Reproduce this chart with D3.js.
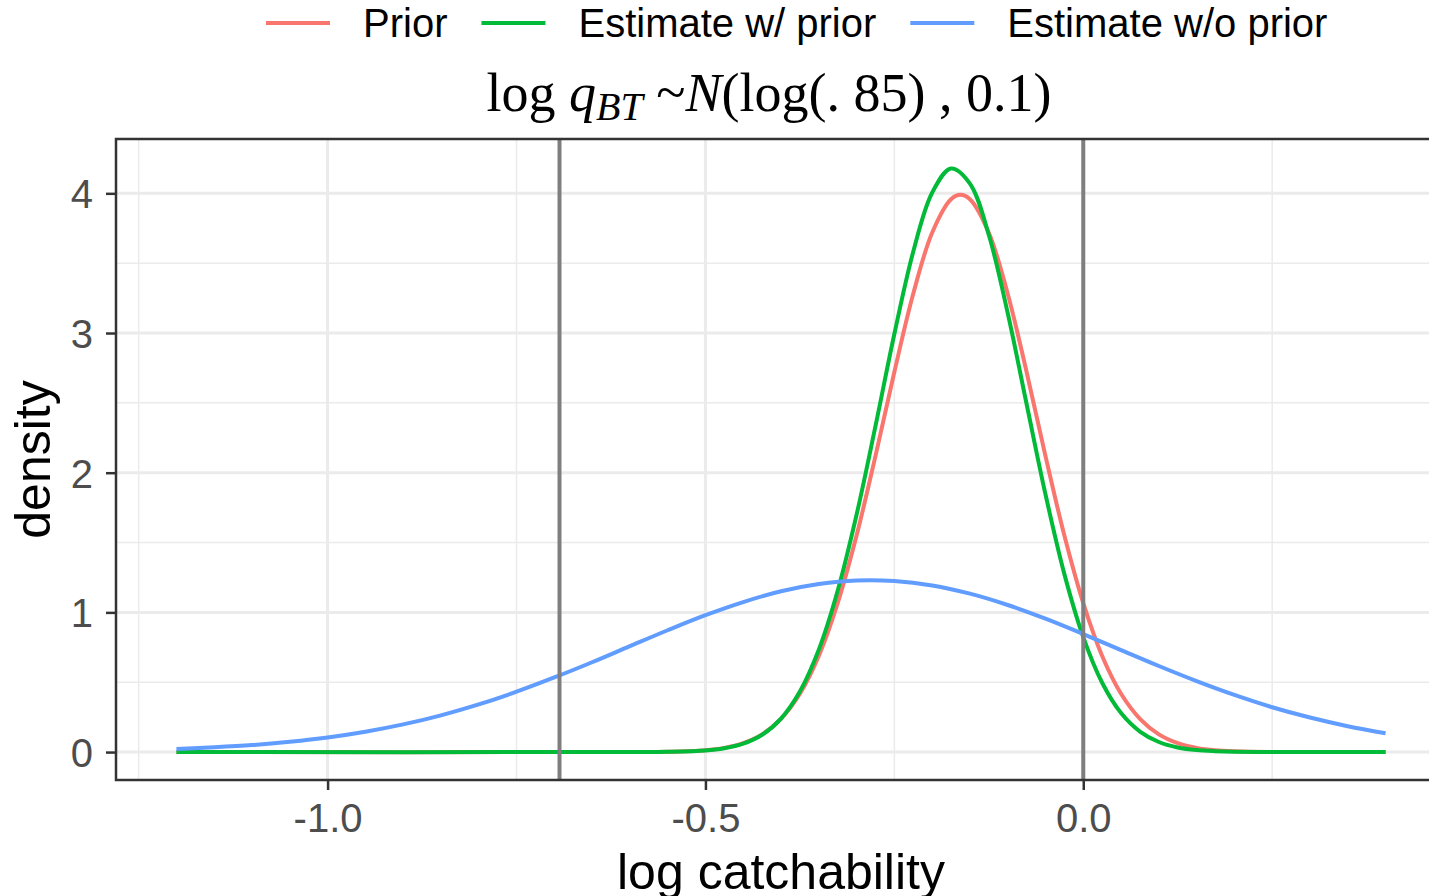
<!DOCTYPE html>
<html>
<head>
<meta charset="utf-8">
<script src="https://cdn.jsdelivr.net/npm/d3@7"></script>
<style>
  body { margin: 0; background: #fff; }
  svg { display: block; font-family: "Liberation Sans", Arial, sans-serif; }
</style>
</head>
<body>
<div id="chart"></div>
<script>
// series names and colours (ggplot defaults)
const seriesNames = ["Prior", "Estimate w/ prior", "Estimate w/o prior"];
const seriesColors = ["#F8766D", "#00BA38", "#619CFF"];

// density curves
const priorX = [-1.2, -0.6, -0.55, -0.5, -0.475, -0.45, -0.425, -0.4, -0.375, -0.35, -0.325, -0.3, -0.275, -0.25, -0.225, -0.2, -0.175, -0.1625, -0.15, -0.125, -0.1, -0.075, -0.05, -0.025, 0, 0.025, 0.05, 0.075, 0.1, 0.125, 0.15, 0.175, 0.2, 0.25, 0.3, 0.4];
const priorY = [0, 0.0003, 0.002, 0.013, 0.030, 0.064, 0.127, 0.238, 0.417, 0.688, 1.066, 1.550, 2.119, 2.721, 3.281, 3.718, 3.958, 3.989, 3.958, 3.718, 3.281, 2.721, 2.119, 1.550, 1.066, 0.688, 0.417, 0.238, 0.127, 0.064, 0.030, 0.013, 0.006, 0.001, 0.0001, 0];

const withPriorX = [-1.2, -0.6, -0.55, -0.5, -0.475, -0.45, -0.425, -0.4, -0.375, -0.35, -0.325, -0.3, -0.275, -0.25, -0.225, -0.2, -0.175, -0.15, -0.125, -0.1, -0.075, -0.05, -0.025, 0, 0.025, 0.05, 0.075, 0.1, 0.125, 0.15, 0.175, 0.2, 0.25, 0.3, 0.4];
const withPriorY = [0, 0.0003, 0.002, 0.011, 0.027, 0.060, 0.124, 0.240, 0.434, 0.733, 1.155, 1.699, 2.333, 2.993, 3.582, 4.004, 4.178, 4.070, 3.702, 3.143, 2.492, 1.845, 1.274, 0.823, 0.496, 0.279, 0.147, 0.072, 0.033, 0.014, 0.006, 0.002, 0.0002, 0, 0];

const noPriorX = [-1.2, -1.15, -1.1, -1.05, -1.0, -0.95, -0.9, -0.85, -0.8, -0.75, -0.7, -0.65, -0.6, -0.55, -0.5, -0.45, -0.4, -0.35, -0.3, -0.25, -0.2, -0.15, -0.1, -0.05, 0, 0.05, 0.1, 0.15, 0.2, 0.25, 0.3, 0.35, 0.4];
const noPriorY = [0.022, 0.034, 0.050, 0.074, 0.105, 0.146, 0.198, 0.263, 0.341, 0.432, 0.534, 0.643, 0.758, 0.872, 0.980, 1.074, 1.151, 1.203, 1.229, 1.225, 1.193, 1.134, 1.053, 0.955, 0.845, 0.730, 0.616, 0.508, 0.409, 0.321, 0.247, 0.185, 0.135];

// reference lines: log(0.5) and 0
const vLines = [-0.6931, 0];

const xTicks = [-1.0, -0.5, 0.0];
const xMinor = [-1.25, -0.75, -0.25, 0.25];
const yTicks = [0, 1, 2, 3, 4];
const yMinor = [0.5, 1.5, 2.5, 3.5];

const W = 1429, H = 896;
const panel = { left: 116, right: 1446, top: 139, bottom: 780 };

const svg = d3.select("#chart").append("svg")
  .attr("width", W)
  .attr("height", H);

const x = d3.scaleLinear().domain([-1.28, 0.48]).range([panel.left, panel.right]);
const y = d3.scaleLinear().domain([-0.2, 4.389]).range([panel.bottom, panel.top]);

const plot = svg.append("g");

// clip to panel
svg.append("clipPath").attr("id", "clip")
  .append("rect")
  .attr("x", panel.left).attr("y", panel.top)
  .attr("width", panel.right - panel.left).attr("height", panel.bottom - panel.top);

// minor grid
plot.selectAll(".xminor").data(xMinor).join("line")
  .attr("x1", d => x(d)).attr("x2", d => x(d))
  .attr("y1", panel.top).attr("y2", panel.bottom)
  .attr("stroke", "#EBEBEB").attr("stroke-width", 1.5);
plot.selectAll(".yminor").data(yMinor).join("line")
  .attr("y1", d => y(d)).attr("y2", d => y(d))
  .attr("x1", panel.left).attr("x2", panel.right)
  .attr("stroke", "#EBEBEB").attr("stroke-width", 1.5);

// major grid
plot.selectAll(".xmajor").data(xTicks).join("line")
  .attr("x1", d => x(d)).attr("x2", d => x(d))
  .attr("y1", panel.top).attr("y2", panel.bottom)
  .attr("stroke", "#EBEBEB").attr("stroke-width", 3);
plot.selectAll(".ymajor").data(yTicks).join("line")
  .attr("y1", d => y(d)).attr("y2", d => y(d))
  .attr("x1", panel.left).attr("x2", panel.right)
  .attr("stroke", "#EBEBEB").attr("stroke-width", 3);

// curves
const curves = [
  { xs: priorX, ys: priorY, color: seriesColors[0] },
  { xs: withPriorX, ys: withPriorY, color: seriesColors[1] },
  { xs: noPriorX, ys: noPriorY, color: seriesColors[2] }
];

const line = d3.line()
  .x(d => x(d[0]))
  .y(d => y(d[1]))
  .curve(d3.curveCatmullRom.alpha(0.5));

const curvesG = plot.append("g").attr("clip-path", "url(#clip)");
curves.forEach(c => {
  curvesG.append("path")
    .datum(c.xs.map((v, i) => [v, c.ys[i]]))
    .attr("d", line)
    .attr("fill", "none")
    .attr("stroke", c.color)
    .attr("stroke-width", 4)
    .attr("stroke-linejoin", "round");
});

// vertical lines
plot.selectAll(".vline").data(vLines).join("line")
  .attr("x1", d => x(d)).attr("x2", d => x(d))
  .attr("y1", panel.top).attr("y2", panel.bottom)
  .attr("stroke", "#7F7F7F").attr("stroke-width", 4);

// panel border
plot.append("rect")
  .attr("x", panel.left).attr("y", panel.top)
  .attr("width", panel.right - panel.left).attr("height", panel.bottom - panel.top)
  .attr("fill", "none").attr("stroke", "#333333").attr("stroke-width", 2.5);

// axes
const xAxis = svg.append("g")
  .attr("transform", `translate(0,${panel.bottom})`)
  .call(d3.axisBottom(x).tickValues(xTicks).tickFormat(d3.format(".1f")).tickSize(10).tickPadding(14));
const yAxis = svg.append("g")
  .attr("transform", `translate(${panel.left},0)`)
  .call(d3.axisLeft(y).tickValues(yTicks).tickFormat(d3.format("d")).tickSize(10).tickPadding(13));

[xAxis, yAxis].forEach(g => {
  g.select(".domain").remove();
  g.selectAll(".tick line").attr("stroke", "#333333").attr("stroke-width", 2.5);
  g.selectAll(".tick text")
    .attr("fill", "#4D4D4D")
    .style("font-size", "40px")
    .style("font-family", "'Liberation Sans', Arial, sans-serif");
});
xAxis.selectAll(".tick text").text(d => d3.format(".1f")(d).replace("−", "-"));
yAxis.selectAll(".tick text").attr("dy", "0.36em");

// axis titles
svg.append("text")
  .attr("x", (panel.left + panel.right) / 2)
  .attr("y", 889)
  .attr("text-anchor", "middle")
  .style("font-size", "50px")
  .attr("fill", "#000")
  .text("log catchability");

svg.append("text")
  .attr("transform", `translate(50,${(panel.top + panel.bottom) / 2}) rotate(-90)`)
  .attr("text-anchor", "middle")
  .style("font-size", "50px")
  .attr("fill", "#000")
  .text("density");

// title (math)
const title = svg.append("text")
  .attr("x", 769)
  .attr("y", 111)
  .attr("text-anchor", "middle")
  .style("font-family", "'Liberation Serif', 'DejaVu Serif', serif")
  .style("font-size", "54px")
  .attr("fill", "#000");
title.append("tspan").text("log ");
title.append("tspan").style("font-style", "italic").text("q");
title.append("tspan").style("font-style", "italic").style("font-size", "40px").attr("dy", 9).text("BT");
title.append("tspan").attr("dy", -9).text(" ~");
title.append("tspan").style("font-style", "italic").text("N");
title.append("tspan").text("(log(. 85) , 0.1)");

// legend
const legend = svg.append("g");
let lx = 266;
seriesNames.forEach((name, i) => {
  legend.append("line")
    .attr("x1", lx).attr("x2", lx + 64)
    .attr("y1", 23).attr("y2", 23)
    .attr("stroke", seriesColors[i]).attr("stroke-width", 4);
  const t = legend.append("text")
    .attr("x", lx + 97)
    .attr("y", 23)
    .attr("dy", "0.36em")
    .style("font-size", "40px")
    .attr("fill", "#000")
    .text(name);
  lx = lx + 97 + t.node().getComputedTextLength() + 34;
});
</script>
</body>
</html>
